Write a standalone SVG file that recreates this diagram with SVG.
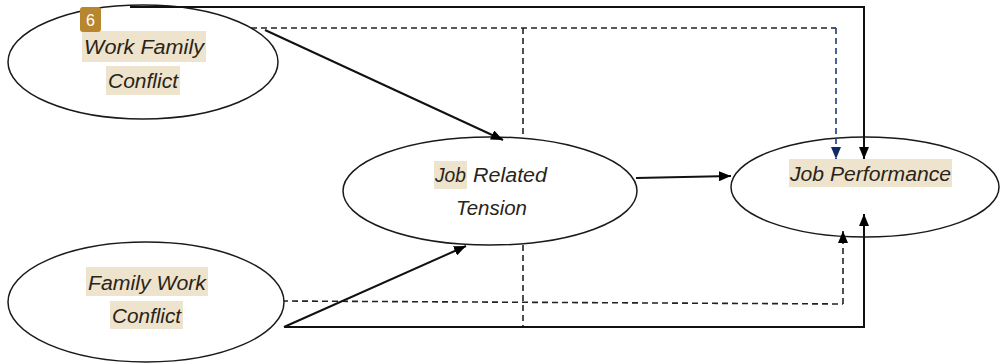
<svg xmlns="http://www.w3.org/2000/svg" width="1001" height="364" viewBox="0 0 1001 364">
<style>
.node{fill:#fff;stroke:#1a1a1a;stroke-width:1.5}
.hl{fill:#EEE3CD}
.t{font-family:"Liberation Sans",Arial,sans-serif;font-style:italic;font-size:20px;fill:#2a2418}
.solid{fill:none;stroke:#111;stroke-width:2}
.dash{fill:none;stroke:#222;stroke-width:1.6;stroke-dasharray:6,4}
.blue{fill:none;stroke:#1F3A7A;stroke-width:1.6;stroke-dasharray:6,4}
</style>
<defs>
<marker id="ah" viewBox="0 0 12 10" refX="12" refY="5" markerWidth="12" markerHeight="10" markerUnits="userSpaceOnUse" orient="auto">
<path d="M0,0 L12,5 L0,10 z" fill="#000"/>
</marker>
<marker id="ahb" viewBox="0 0 12 10" refX="12" refY="5" markerWidth="12" markerHeight="10" markerUnits="userSpaceOnUse" orient="auto">
<path d="M0,0 L12,5 L0,10 z" fill="#0F2A66"/>
</marker>
</defs>
<rect width="1001" height="364" fill="#fff"/>
<g id="connectors-back">
<path class="dash" d="M251,28 L836,28"/>
<path class="dash" d="M523,28 L523,137"/>
<path class="dash" d="M523,245 L523,327"/>
<path class="dash" d="M282,301 L843,304"/>
</g>
<g id="work-family-conflict">
<ellipse class="node" cx="143" cy="62" rx="135" ry="57"/>
<rect class="hl" x="82" y="31" width="124" height="31"/>
<text class="t" x="84" y="54" textLength="120" lengthAdjust="spacingAndGlyphs">Work Family</text>
<rect class="hl" x="106" y="66" width="74" height="29"/>
<text class="t" x="108" y="88" textLength="70" lengthAdjust="spacingAndGlyphs">Conflict</text>
<rect x="80" y="7" width="21" height="25" rx="3" fill="#B8862E"/>
<text x="90.5" y="26" text-anchor="middle" font-family="Liberation Sans,Arial,sans-serif" font-size="16" fill="#fff">6</text>
</g>
<g id="family-work-conflict">
<ellipse class="node" cx="146" cy="302" rx="138" ry="60"/>
<rect class="hl" x="86" y="267" width="122" height="29"/>
<text class="t" x="88" y="290" textLength="118" lengthAdjust="spacingAndGlyphs">Family Work</text>
<rect class="hl" x="110" y="301" width="73" height="28"/>
<text class="t" x="112" y="323" textLength="69" lengthAdjust="spacingAndGlyphs">Conflict</text>
</g>
<g id="job-related-tension">
<ellipse class="node" cx="490" cy="191" rx="147" ry="54"/>
<rect class="hl" x="434" y="161" width="33" height="28"/>
<text class="t" x="435" y="182" textLength="31" lengthAdjust="spacingAndGlyphs">Job</text>
<text class="t" x="473" y="182" textLength="74" lengthAdjust="spacingAndGlyphs">Related</text>
<text class="t" x="456" y="215" textLength="71" lengthAdjust="spacingAndGlyphs">Tension</text>
</g>
<g id="job-performance">
<ellipse class="node" cx="865" cy="187" rx="134" ry="50"/>
<rect class="hl" x="789" y="159" width="163" height="28"/>
<text class="t" x="790" y="181" textLength="161" lengthAdjust="spacingAndGlyphs">Job Performance</text>
</g>
<g id="connectors">
<path class="solid" d="M130,7 L864,7 L864,159" marker-end="url(#ah)"/>
<path class="blue" d="M836,28 L836,159" marker-end="url(#ahb)"/>
<path class="solid" d="M265,30 L503,140" marker-end="url(#ah)"/>
<path class="solid" d="M284,327 L466,246" marker-end="url(#ah)"/>
<path class="solid" d="M636,178 L731,176" marker-end="url(#ah)"/>
<path class="solid" d="M284,327 L864,327 L864,214" marker-end="url(#ah)"/>
<path class="dash" d="M843,304 L843,231" marker-end="url(#ah)"/>
</g>
</svg>
